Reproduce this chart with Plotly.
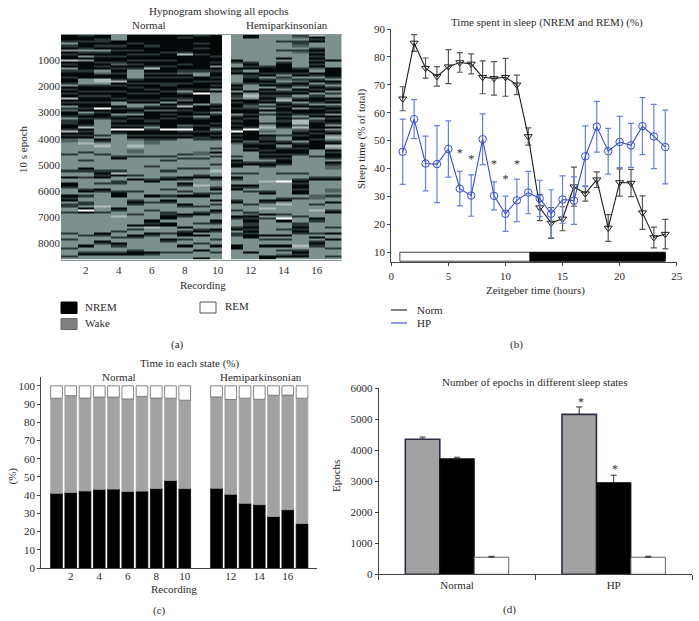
import numpy as np
import plotly.graph_objects as go

W, H = 699, 621
FONT = "Liberation Serif"
TXT = "#2b2b2b"

# (a) hypnogram, one string per recording, each character is 80 epochs
# k NREM, d/m mixed (blurred NREM and wake), g wake, l/w REM
HYPNO_CODES = {"k": 0, "d": 1, "m": 2, "g": 3, "l": 4, "w": 5}
HYPNO_REC = [
    "kkkdgdkgkd kklkdkgdkk dkkdgkdkdk lkdkgdmkkd gddkkdlkdk mmgggggdgg gggggdggkg gkkdgggkdk gddggdgggg gggggdggdg ggdgggdggg ggggggkg",
    "dkkdkkdgdk gkgkkkkdkk kgggdkkdkd kkdkkdkgdk dkkdlkdkdk gglgggdggg dgggkdggdg ggggdkgdgg ddgkwkgggg ggggggdggg gkggdkggdg glgggkgd",
    "kkddkdkgdk dkkdkdkgmk kllgdkkdkd kkdkkwkdkk dgggggggdg kdglgggdgg gggggdkdkg gdggkdgggg gglggdgggg gggggkdggk dgggdkgggg gggkkmmm",
    "gggkkdkdkk dkkdmkdkdk kdlkdkkdkk dkggkdkkgd kdkdkwkdgg ggggggggdk gggggdlkgg ddgggdkkgg gggkdgglgg ggggdggdgg kdggdkggdk gggggdkg",
    "kkkkdkkdkd kkdkdkdggg gdkdkdkkdk kdkggdkdgk dkkdkwkkdk mgglgmmgdg gggggggdgk gggggdgggd kdggggdggg gkgdggkdgg gggdkkgggg kdgggggg",
    "kkkkkdkkkd kkdkkdlkdk dkkdkkdkdk kdkgdkmkkk kdkdgdkkdk dmmgggggdg gggdgggggd kggggggkgg dgggdggggk dklggkdggg ggggkdgglg gggdgggg",
    "kkkkkkkkdk kkdkkdkkdk dkkddkkdkk dkgkdkmkdk dkkkkwkkdk dgggggggdg dggggdggdk ggggdggdgk dggggddkkg kkgggdggkd ggggdggggg ggggdggg",
    "kdkkkkkkdl kkkkdkkdmk dkkdkkdgdk dmkdlkdkkd kkkmdwdkdk gggggggdgd ggggdgggkd gkdggdgkgg gkdgggkdgg ggkgdkkgdg gkggdggggg gdggkdgg",
    "dkkkdkdkkd kkkkkkkdgg kkdkkkdkwk kkkgkkkdkg dkkdkkdkkd dgggggmmgd ggggdggdkg gglgggdkgg ggdggdkggg dggdkgkggg dggkgggkgg ggdgggkd",
    "kkkkkkkkkk dkkdkgkdkk dkdkdkgkgg gggdkdkgdk kkdkdgdkdk dgggdgkgdg ggdgglggkd gggdkgdggk gdggkdgggk dggkdgggdg gkggdgggkg gggwgkdg",
    "gggggggggg ggkdggkdkg gggmkdkgkd mkdkkdkkgd kdkdkdwkdk dkmgggggdg kdkkggdgkd ggkdkggggd kgggdggkdg ggdkgddggg gkkgggggdk kggggkkd",
    "kkgggggggg gggdkdkgkd dkkdgggkgl gkkdmdkkdk dkkkdwkkkk kmdkdkgggg gdkgggdggg ggkdgdgggg gdgggdmkdk ddkdkdkkgg ggggkgggdg gkggdggg",
    "gggggggggg gggggdkkdk gdkdkgkdkd kdkgdgkgdg ggdglgmgkd dkdkkdkdkd gdkdgggggg lggggdkggk dgglggkgdg ggggggkgdg gkggggkkkd gggdkggg",
    "gggdgggdgg gkgdkkkkdg dmgdkdgdkd gldkdkkdkd kdkkdgggdg gdkgdkkdkd kkdgggdggg wgggggggdk glggggdgwk gggdggkgdg gkgdgmkggg gddgggmm",
    "dmgddmgdmg ggggggdkdk gdmkdgkdkg dkgdkgkkdg dllmlmdkdk kgdkdkkdgg ggggggdggd kdkkdkkgdg gggggggdgg ddkdkdgggg glgdkdkggg gggdggkg",
    "lkdkggdkdk dkdkdkmgkd gdkgdkdkgd kkdgkdkkdk gdkkkdkdkk dkkkkgggdg ggggggggdk gggggggmmg gdgglgggkd gggggdgkgd kdgggggggd gggdggdg",
    "gggggggggg ggkgggkkkk dgkdgdkgdg kdkgdkdkgk dkdgkgdkgl gdklgkdkkd gkdmmgggdk ggggmmgdgg kgggdkgggg ggdggkggkg ggdgggdggg ggkggdgg",
]
HYPNO_TICKS = [2, 4, 6, 8, 10, 12, 14, 16]
# column edges, recordings 10 and 11 are cut short by the white gap
HYPNO_EDGES = [0.5, 1.5, 2.5, 3.5, 4.5, 5.5, 6.5, 7.5, 8.5, 9.5, 10.24, 10.78, 11.5,
               12.5, 13.5, 14.5, 15.5, 16.5, 17.5]
EPOCH_TICKS = [1000, 2000, 3000, 4000, 5000, 6000, 7000, 8000]

# (b) sleep time per hour
HOURS = list(range(1, 25))
NORM = [65, 85, 76, 73, 76.5, 78, 77.5, 72.7, 72.3, 72.7, 70, 51.5,
        26, 20.5, 22, 33.5, 31, 36, 18.7, 35, 34.8, 24.2, 15.3, 16.5]
NORM_ERR = [4.3, 3, 3.6, 3.5, 6.1, 3.5, 3.6, 5.9, 6, 6.8, 3.5, 3.1,
            4.7, 5.5, 4.3, 7, 2.7, 2.8, 4.8, 4.9, 4.9, 6, 3.7, 5.3]
HP = [46, 57.7, 41.8, 41.6, 47, 32.8, 30.3, 50.5, 30.2, 23.8, 28.6, 31.4,
      29.3, 23.8, 28.9, 28.5, 44.4, 55, 46.2, 49.5, 48.3, 55.2, 51.5, 47.7]
HP_ERR = [11.7, 7, 9.8, 13.8, 10.1, 6.2, 7.4, 9.1, 5, 6.3, 7.6, 7.6,
          6.5, 8.6, 8.5, 8.5, 10.9, 9.1, 8.2, 9.2, 7.9, 10.2, 11.5, 13.2]
STAR_HOURS = [6, 7, 9, 10, 11]
STAR_Y = [45.2, 43, 41.2, 35.8, 41.2]

# (c) time in each state
REC_POS = [1, 2, 3, 4, 5, 6, 7, 8, 9, 10, 12.23, 13.23, 14.23, 15.23, 16.23, 17.23, 18.23]
REC_NAMES = ["2", "4", "6", "8", "10", "12", "14", "16"]
NREM_PCT = [41, 41.5, 42.3, 43.2, 43.3, 42, 42.2, 43.7, 48, 43.6,
            43.8, 40.5, 35.5, 34.8, 28.3, 32, 24.4]
WAKE_PCT = [52.2, 53.1, 51, 50.6, 50.5, 50.8, 52, 49.6, 45.2, 48.5,
            50.1, 52, 57.7, 57.8, 66.5, 62.9, 68.8]
REM_PCT = [6.8, 5.4, 6.7, 6.2, 6.2, 7.2, 5.8, 6.7, 6.8, 7.9,
           6.1, 7.5, 6.8, 7.4, 5.2, 5.1, 6.8]

# (d) epochs per state
GROUPS = ["Normal", "HP"]
WAKE_EPOCHS = [4350, 5150]
WAKE_EPOCHS_ERR = [70, 240]
NREM_EPOCHS = [3720, 2950]
NREM_EPOCHS_ERR = [50, 240]
REM_EPOCHS = [550, 550]
REM_EPOCHS_ERR = [30, 30]


def px_x(x):
    return x / W


def px_y(y):
    return 1 - y / H


def label(x, y, text, size=11, angle=0, align="center"):
    return dict(xref="paper", yref="paper", x=px_x(x), y=px_y(y), text=text, showarrow=False,
                font=dict(family=FONT, size=size, color=TXT), textangle=angle,
                xanchor=align, yanchor="middle")


def box(x0, y0, x1, y1, fill, line="#555555"):
    return dict(type="rect", xref="paper", yref="paper", x0=px_x(x0), x1=px_x(x1),
                y0=px_y(y1), y1=px_y(y0), fillcolor=fill, line=dict(color=line, width=1))


def axis(x_or_y_px0, px1, vertical, **kw):
    dom = [px_y(px1), px_y(x_or_y_px0)] if vertical else [px_x(x_or_y_px0), px_x(px1)]
    base = dict(domain=dom, showgrid=False, zeroline=False, showline=True, linecolor="#444444",
                linewidth=1, ticks="outside", ticklen=3, tickcolor="#444444",
                tickfont=dict(family=FONT, size=11, color=TXT))
    base.update(kw)
    return base


# build the hypnogram grid, blank column sits between recordings 10 and 11
rows = []
for rec in HYPNO_REC:
    codes = [HYPNO_CODES[c] for c in rec.replace(" ", "")]
    codes = (codes + [3] * 108)[:108]
    rows.append(codes)
grid = np.array(rows, dtype=float)
grid = np.insert(grid, 10, np.nan, axis=0).T
epoch_edges = np.arange(109) * 80

fig = go.Figure()

fig.add_trace(go.Heatmap(
    z=grid, x=HYPNO_EDGES, y=epoch_edges, xaxis="x", yaxis="y", zmin=0, zmax=5, showscale=False,
    colorscale=[[0, "#050808"], [0.2, "#2a3635"], [0.4, "#52605e"], [0.6, "#7c908d"],
                [0.8, "#aebbb9"], [1, "#ffffff"]],
))

# norm / HP lines
fig.add_trace(go.Scatter(
    x=HOURS, y=NORM, xaxis="x2", yaxis="y2", mode="lines+markers", name="Norm",
    line=dict(color="#1c1c1c", width=1.1),
    marker=dict(symbol="triangle-down-open", size=7, color="#1c1c1c", line=dict(width=1)),
    error_y=dict(type="data", array=NORM_ERR, color="#555555", thickness=1.2, width=3),
))
fig.add_trace(go.Scatter(
    x=HOURS, y=HP, xaxis="x2", yaxis="y2", mode="lines+markers", name="HP",
    line=dict(color="#3650c8", width=1.1),
    marker=dict(symbol="circle-open", size=7.5, color="#3650c8", line=dict(width=1)),
    error_y=dict(type="data", array=HP_ERR, color="#6680dc", thickness=1.2, width=3),
))
fig.add_trace(go.Scatter(
    x=STAR_HOURS, y=STAR_Y, xaxis="x2", yaxis="y2", mode="text", text=["*"] * len(STAR_HOURS),
    textfont=dict(family=FONT, size=12, color=TXT), textposition="middle center",
))

# stacked recordings
for vals, fill, edge in [(NREM_PCT, "#000000", "#000000"), (WAKE_PCT, "#a2a2a2", "#a2a2a2"),
                         (REM_PCT, "#ffffff", "#666666")]:
    fig.add_trace(go.Bar(
        x=REC_POS, y=vals, xaxis="x3", yaxis="y3", width=0.82,
        marker=dict(color=fill, line=dict(color=edge, width=0.8)),
    ))

# grouped epochs
for vals, err, fill, edge, lw in [
    (WAKE_EPOCHS, WAKE_EPOCHS_ERR, "#a2a2a2", "#2c2c44", 1.6),
    (NREM_EPOCHS, NREM_EPOCHS_ERR, "#000000", "#1a1010", 1),
    (REM_EPOCHS, REM_EPOCHS_ERR, "#ffffff", "#666666", 1),
]:
    fig.add_trace(go.Bar(
        x=GROUPS, y=vals, xaxis="x4", yaxis="y4", offsetgroup=str(fill),
        marker=dict(color=fill, line=dict(color=edge, width=lw)),
        error_y=dict(type="data", symmetric=False, array=err, arrayminus=[0, 0],
                     color="#333333", thickness=1, width=3),
    ))

annotations = [
    # a
    label(219, 11, "Hypnogram showing all epochs"),
    label(149, 25, "Normal"),
    label(287, 25, "Hemiparkinsonian"),
    label(203, 285, "Recording"),
    label(23, 149, "10 s epoch", angle=-90),
    label(83, 307, "NREM", align="left"),
    label(83, 323, "Wake", align="left"),
    label(223, 306, "REM", align="left"),
    label(177, 344.5, "(a)"),
    # b
    label(546.5, 22, "Time spent in sleep (NREM and REM) (%)"),
    label(535, 290, "Zeitgeber time (hours)"),
    label(361, 139, "Sleep time (% of total)", angle=-90),
    label(415, 309.5, "Norm", align="left"),
    label(415, 323, "HP", align="left"),
    label(516.5, 344.5, "(b)"),
    # c
    label(190, 363.5, "Time in each state (%)"),
    label(118.5, 377, "Normal"),
    label(260.5, 377, "Hemiparkinsonian"),
    label(173.5, 588.5, "Recording"),
    label(12, 476.5, "(%)", angle=-90),
    label(159, 610, "(c)"),
    # d
    label(535, 382, "Number of epochs in different sleep states"),
    label(335.5, 476.5, "Epochs", angle=-90),
    label(509.5, 609.5, "(d)"),
    dict(xref="x4", yref="y4", x=-0.21 + 1, y=5560, text="*", showarrow=False,
         font=dict(family=FONT, size=12, color=TXT)),
    dict(xref="x4", yref="y4", x=1.01, y=3390, text="*", showarrow=False,
         font=dict(family=FONT, size=12, color=TXT)),
]

shapes = [
    box(61, 302, 77, 313.5, "#000000", "#000000"),
    box(61, 318.5, 77, 329.5, "#808080", "#666666"),
    box(200, 302, 216, 313, "#ffffff", "#555555"),
    # light / dark bar on the time axis
    dict(type="rect", xref="x2", yref="y2", x0=0.75, x1=12.15, y0=6.8, y1=10, fillcolor="#ffffff",
         line=dict(color="#444444", width=1)),
    dict(type="rect", xref="x2", yref="y2", x0=12.15, x1=24, y0=6.8, y1=10, fillcolor="#000000",
         line=dict(color="#000000", width=1)),
    # legend lines of (b)
    dict(type="line", xref="paper", yref="paper", x0=px_x(391), x1=px_x(407), y0=px_y(310), y1=px_y(310),
         line=dict(color="#1c1c1c", width=1.1)),
    dict(type="line", xref="paper", yref="paper", x0=px_x(391), x1=px_x(407), y0=px_y(323), y1=px_y(323),
         line=dict(color="#3650c8", width=1.1)),
]

fig.update_layout(
    width=W, height=H, autosize=False, margin=dict(l=0, r=0, t=0, b=0, autoexpand=False),
    paper_bgcolor="white", plot_bgcolor="white", showlegend=False, barmode="group",
    bargap=0.34, bargroupgap=0,
    annotations=annotations, shapes=shapes,
    xaxis=axis(61, 341.5, False, range=[0.5, 17.5], tickvals=HYPNO_TICKS, ticks="", anchor="y",
               linecolor="#8a9a98", mirror=True),
    yaxis=axis(34.5, 259.5, True, range=[8640, 0], tickvals=EPOCH_TICKS, ticks="", anchor="x",
               showline=False),
    xaxis2=axis(391.3, 676.7, False, range=[0, 25], tickvals=[0, 5, 10, 15, 20, 25], anchor="y2"),
    yaxis2=axis(29, 262.3, True, range=[6.4, 90], tickvals=list(range(10, 100, 10)), anchor="x2"),
    xaxis3=axis(41.3, 316.7, False, range=[-0.067, 19.26], anchor="y3", ticks="", ticklabelstandoff=-2,
                tickvals=[REC_POS[i] for i in (1, 3, 5, 7, 9, 11, 13, 15)], ticktext=REC_NAMES),
    yaxis3=axis(376.7, 568, True, range=[0, 105], tickvals=list(range(0, 110, 10)), anchor="x3"),
    xaxis4=axis(378.7, 692, False, type="category", tickson="boundaries", range=[-0.5, 1.5],
                anchor="y4", ticklen=5),
    yaxis4=axis(388, 574.3, True, range=[0, 6000], tickvals=list(range(0, 7000, 1000)), anchor="x4"),
)
# stacked panel needs its own stacking, so offset the bars by their cumulative base
base = np.zeros(len(REC_POS))
for trace, vals in zip(fig.data[4:7], (NREM_PCT, WAKE_PCT, REM_PCT)):
    trace.base = base.tolist()
    trace.offsetgroup = "stack"
    base = base + np.array(vals)

# the default body margin would push the figure 8px in from the window corner
fig.write_html("out.html", post_script="document.body.style.margin='0';",
               config=dict(displayModeBar=False))
